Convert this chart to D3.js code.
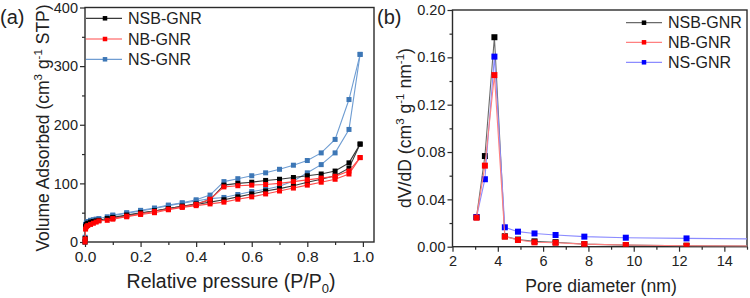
<!DOCTYPE html>
<html><head><meta charset="utf-8">
<script src="https://cdn.jsdelivr.net/npm/d3@7"></script>
<style>body{margin:0;background:#fff}svg{display:block;font-family:Arial,"Liberation Sans",sans-serif}</style>
</head><body><svg id="c" width="750" height="298"></svg>
<script>
// ---------- data ----------
const seriesNames = ["NSB-GNR", "NB-GNR", "NS-GNR"];
// (a) isotherms
const pAds = [0.0005, 0.002, 0.005, 0.01, 0.02, 0.03, 0.04, 0.05, 0.08, 0.1, 0.15, 0.2, 0.25, 0.3, 0.35, 0.4, 0.45, 0.5, 0.55, 0.6, 0.65, 0.7, 0.75, 0.8, 0.85, 0.9, 0.95, 0.99];
const nsbAds = [6, 27, 30, 32, 34, 35, 36, 37, 40, 42, 46, 50, 53, 57, 61, 64, 68, 72, 77, 82, 87, 91, 96, 102, 107, 113, 126, 167];
const nbAds = [5, 22, 26, 28, 30, 32, 34, 36, 37, 39, 43, 47, 50, 55, 59, 62, 65, 68, 73, 77, 82, 87, 92, 97, 102, 107, 116, 144];
const nsAds = [8, 30, 33, 35, 37, 38, 39, 40, 43, 45, 49, 53, 57, 62, 66, 70, 74, 76, 81, 86, 90, 95, 104, 118, 132, 152, 192, 320];
const pDes = [0.99, 0.95, 0.9, 0.85, 0.8, 0.75, 0.7, 0.65, 0.6, 0.55, 0.5, 0.45, 0.4, 0.35, 0.3, 0.25, 0.2, 0.15, 0.1];
const nsbDes = [167, 135, 121, 116, 113, 110, 107, 105, 102, 100, 97, 72, 65, 61, 57, 53, 49, 45, 41];
const nbDes = [144, 121, 112, 109, 106, 103, 100, 98, 97, 96, 94, 73, 64, 60, 56, 52, 48, 44, 40];
const nsDes = [320, 243, 175, 152, 139, 131, 124, 118, 113, 108, 103, 80, 72, 67, 63, 58, 54, 50, 46];
// (b) pore size distribution
const poreD = [3.06, 3.43, 3.85, 4.31, 4.89, 5.62, 6.55, 7.82, 9.65, 12.33, 17.5];
const nsbPsd = [0.025, 0.0766, 0.177, 0.0088, 0.0060, 0.0045, 0.0038, 0.0022, 0.0013, 0.0008, 0.0003];
const nbPsd = [0.0245, 0.0685, 0.145, 0.0085, 0.0057, 0.0037, 0.0033, 0.0022, 0.0014, 0.0008, 0.0003];
const nsPsd = [0.025, 0.057, 0.1606, 0.0164, 0.0127, 0.0112, 0.0099, 0.0085, 0.0076, 0.0070, 0.0063];
const xTicksA = [0, 0.2, 0.4, 0.6, 0.8, 1.0];
const yTicksA = [0, 100, 200, 300, 400];
const xTicksB = [2, 4, 6, 8, 10, 12, 14];
const yTicksB = [0, 0.04, 0.08, 0.12, 0.16, 0.20];

// ---------- drawing ----------
const svg = d3.select("#c");
const axisCol = "#2b2b2b";

function frame(g, x, y, xt, yt, xminor, yminor, xfmt, yfmt, xfs, yfs) {
  const [x0, x1] = x.range(), [y0, y1] = y.range();
  const xa = d3.axisBottom(x).tickValues(xt).tickFormat(xfmt).tickSize(5).tickPadding(4);
  const gx = g.append("g").attr("transform", `translate(0,${y0})`).call(xa);
  const xm = d3.axisBottom(x).tickValues(xminor).tickFormat("").tickSize(3);
  g.append("g").attr("transform", `translate(0,${y0})`).call(xm);
  const ya = d3.axisLeft(y).tickValues(yt).tickFormat(yfmt).tickSize(5).tickPadding(2);
  const gy = g.append("g").attr("transform", `translate(${x0},0)`).call(ya);
  const ym = d3.axisLeft(y).tickValues(yminor).tickFormat("").tickSize(3);
  g.append("g").attr("transform", `translate(${x0},0)`).call(ym);
  g.selectAll(".domain").remove();
  g.selectAll(".tick line").attr("stroke", axisCol).attr("stroke-width", 1.2);
  gx.selectAll("text").attr("font-size", xfs).attr("fill", "#222").attr("font-family", "Arial, Liberation Sans, sans-serif");
  gy.selectAll("text").attr("font-size", yfs).attr("fill", "#222").attr("font-family", "Arial, Liberation Sans, sans-serif");
  g.append("rect").attr("x", x0).attr("y", y1).attr("width", x1 - x0).attr("height", y0 - y1)
    .attr("fill", "none").attr("stroke", axisCol).attr("stroke-width", 1.4);
}

function series(g, x, y, pts, lineCol, markCol, ms, clip) {
  const line = d3.line().x(d => x(d[0])).y(d => y(d[1]));
  const s = g.append("g");
  if (clip) s.attr("clip-path", clip);
  s.append("path").datum(pts).attr("d", line).attr("fill", "none").attr("stroke", lineCol).attr("stroke-width", 1.1);
  s.selectAll("rect.m").data(pts).join("rect").attr("class", "m")
    .attr("x", d => x(d[0]) - ms / 2).attr("y", d => y(d[1]) - ms / 2)
    .attr("width", ms).attr("height", ms).attr("fill", markCol);
}

function legend(g, items, lx0, lx1, mx, tx, ys, ms, fs) {
  items.forEach((it, i) => {
    g.append("line").attr("x1", lx0).attr("x2", lx1).attr("y1", ys[i]).attr("y2", ys[i]).attr("stroke", it.line).attr("stroke-width", 1.2);
    g.append("rect").attr("x", mx - ms / 2).attr("y", ys[i] - ms / 2).attr("width", ms).attr("height", ms).attr("fill", it.mark);
    g.append("text").attr("x", tx).attr("y", ys[i]).attr("dy", "0.35em").attr("font-size", fs).attr("fill", "#222").text(it.name);
  });
}

// ----- panel (a) -----
const ga = svg.append("g");
const xA = d3.scaleLinear().domain([0, 1.04]).range([85, 374]);
const yA = d3.scaleLinear().domain([0, 400]).range([242, 7.5]);
frame(ga, xA, yA, xTicksA, yTicksA, [0.1, 0.3, 0.5, 0.7, 0.9], [50, 150, 250, 350], d3.format(".1f"), d3.format("d"), 15.5, 14.5);

const colsA = {
  "NSB-GNR": { line: "#3a3a3a", mark: "#000000" },
  "NB-GNR": { line: "#ff4a4a", mark: "#ff0000" },
  "NS-GNR": { line: "#6f9dd2", mark: "#3d77b6" }
};
const isoData = {
  "NSB-GNR": [nsbAds, nsbDes],
  "NB-GNR": [nbAds, nbDes],
  "NS-GNR": [nsAds, nsDes]
};
["NS-GNR", "NSB-GNR", "NB-GNR"].forEach(n => {
  const ads = pAds.map((p, i) => [p, isoData[n][0][i]]);
  const des = pDes.map((p, i) => [p, isoData[n][1][i]]);
  // vertical rise at p = 0
  series(ga, xA, yA, [[0, 0]].concat(ads), colsA[n].line, colsA[n].mark, 5);
  series(ga, xA, yA, des, colsA[n].line, colsA[n].mark, 5);
});
legend(ga, seriesNames.map(n => ({ name: n, line: colsA[n].line, mark: colsA[n].mark })),
  86, 122, 105, 128, [18.3, 39, 59.3], 4.5, 16);

// axis titles (a)
ga.append("text").attr("x", 231).attr("y", 288).attr("text-anchor", "middle").attr("font-size", 19.5).attr("fill", "#222")
  .call(t => {
    t.append("tspan").text("Relative pressure (P/P");
    t.append("tspan").attr("font-size", 13).attr("dy", 5).text("0");
    t.append("tspan").attr("dy", -5).text(")");
  });
ga.append("text").attr("transform", "translate(49,128) rotate(-90)").attr("text-anchor", "middle").attr("font-size", 17.5).attr("fill", "#222")
  .call(t => {
    t.append("tspan").text("Volume Adsorbed (cm");
    t.append("tspan").attr("font-size", 11.5).attr("dy", -7).text("3");
    t.append("tspan").attr("dy", 7).text(" g");
    t.append("tspan").attr("font-size", 11.5).attr("dy", -7).text("-1");
    t.append("tspan").attr("dy", 7).text(" STP)");
  });
svg.append("text").attr("x", 0).attr("y", 24).attr("font-size", 20).attr("fill", "#222").text("(a)");

// ----- panel (b) -----
const gb = svg.append("g");
const xB = d3.scaleLinear().domain([2, 15]).range([452.5, 747]);
const yB = d3.scaleLinear().domain([0, 0.2]).range([246.7, 10]);
svg.append("defs").append("clipPath").attr("id", "clipB").append("rect")
  .attr("x", 452.5).attr("y", 10).attr("width", 747 - 452.5).attr("height", 236.7);
frame(gb, xB, yB, xTicksB, yTicksB, [3, 5, 7, 9, 11, 13, 15], [0.02, 0.06, 0.10, 0.14, 0.18], d3.format("d"), d3.format(".2f"), 14.5, 14.5);

const colsB = {
  "NSB-GNR": { line: "#6a6a6a", mark: "#000000" },
  "NB-GNR": { line: "#ff8080", mark: "#ff0000" },
  "NS-GNR": { line: "#8c8cff", mark: "#0000ff" }
};
const psdData = { "NSB-GNR": nsbPsd, "NB-GNR": nbPsd, "NS-GNR": nsPsd };
["NSB-GNR", "NS-GNR", "NB-GNR"].forEach(n => {
  const pts = poreD.map((d, i) => [d, psdData[n][i]]);
  series(gb, xB, yB, pts, colsB[n].line, colsB[n].mark, 6, "url(#clipB)");
});
legend(gb, seriesNames.map(n => ({ name: n, line: colsB[n].line, mark: colsB[n].mark })),
  626, 662, 644, 668, [22.7, 42.3, 62.3], 4.5, 16);

gb.append("text").attr("x", 601).attr("y", 292).attr("text-anchor", "middle").attr("font-size", 17.6).attr("fill", "#222").text("Pore diameter (nm)");
gb.append("text").attr("transform", "translate(411,128) rotate(-90)").attr("text-anchor", "middle").attr("font-size", 17.6).attr("fill", "#222")
  .call(t => {
    t.append("tspan").text("dV/dD (cm");
    t.append("tspan").attr("font-size", 11.5).attr("dy", -7).text("3");
    t.append("tspan").attr("dy", 7).text(" g");
    t.append("tspan").attr("font-size", 11.5).attr("dy", -7).text("-1");
    t.append("tspan").attr("dy", 7).text(" nm");
    t.append("tspan").attr("font-size", 11.5).attr("dy", -7).text("-1");
    t.append("tspan").attr("dy", 7).text(")");
  });
svg.append("text").attr("x", 377).attr("y", 24).attr("font-size", 20).attr("fill", "#222").text("(b)");
</script></body></html>
